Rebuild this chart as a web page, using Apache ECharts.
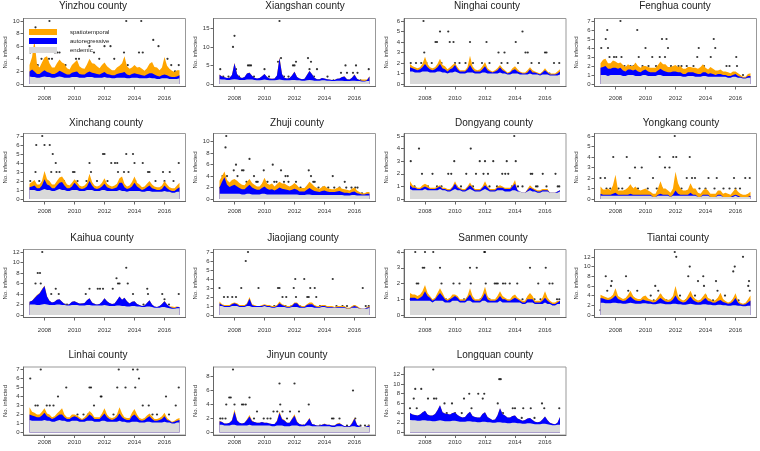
<!DOCTYPE html>
<html>
<head>
<meta charset="utf-8">
<script src="https://cdn.jsdelivr.net/npm/echarts@6/dist/echarts.min.js"></script>
<style>
html, body { margin: 0; padding: 0; background: #fff; }
#main { width: 760px; height: 451px; }
</style>
</head>
<body>
<div id="main"></div>
<script>
// fitted means every two months, 2007.0 .. 2017.0
var fitTimes = [2007,2007.17,2007.33,2007.5,2007.67,2007.83, 2008,2008.17,2008.33,2008.5,2008.67,2008.83,
    2009,2009.17,2009.33,2009.5,2009.67,2009.83, 2010,2010.17,2010.33,2010.5,2010.67,2010.83,
    2011,2011.17,2011.33,2011.5,2011.67,2011.83, 2012,2012.17,2012.33,2012.5,2012.67,2012.83,
    2013,2013.17,2013.33,2013.5,2013.67,2013.83, 2014,2014.17,2014.33,2014.5,2014.67,2014.83,
    2015,2015.17,2015.33,2015.5,2015.67,2015.83, 2016,2016.17,2016.33,2016.5,2016.67,2016.83, 2017];

var counties = ['Yinzhou county', 'Xiangshan county', 'Ninghai county', 'Fenghua county',
    'Xinchang county', 'Zhuji county', 'Dongyang county', 'Yongkang county',
    'Kaihua county', 'Jiaojiang county', 'Sanmen county', 'Tiantai county',
    'Linhai county', 'Jinyun county', 'Longquan county'];

var yMaxList = [10, 17, 6, 7, 7, 11, 5, 6, 12, 7, 4, 13, 7, 9, 13];
var yTickList = [[0,2,4,6,8,10], [0,5,10,15], [0,1,2,3,4,5,6], [0,1,2,3,4,5,6,7],
    [0,1,2,3,4,5,6,7], [0,2,4,6,8,10], [0,1,2,3,4,5], [0,1,2,3,4,5,6],
    [0,2,4,6,8,10,12], [0,1,2,3,4,5,6,7], [0,1,2,3,4], [0,2,4,6,8,10,12],
    [0,1,2,3,4,5,6,7], [0,2,4,6,8], [0,2,4,6,8,10,12]];
var yearTicks = [2008, 2010, 2012, 2014, 2016];

// endemic / autoregressive / spatiotemporal components
var yinzhouEnd = [1.2,1.1,1.1,1.0,1.0,1.1, 1.2,1.1,1.1,1.0,1.0,1.1, 1.2,1.1,1.0,1.0,1.0,1.1, 1.1,1.1,1.0,1.0,1.0,1.1, 1.1,1.1,1.0,1.0,1.0,1.0, 1.1,1.0,1.0,0.9,0.9,1.0, 1.0,1.0,1.0,0.9,0.9,1.0, 1.0,1.0,0.9,0.9,0.9,0.9, 1.0,0.9,0.9,0.8,0.8,0.9, 0.9,0.9,0.8,0.8,0.8,0.8, 0.9];
var yinzhouAR = [0.8,1.2,0.9,0.6,0.6,0.8, 1.0,0.8,0.7,0.6,0.6,0.7, 0.9,0.8,0.7,0.5,0.5,0.7, 0.8,0.9,0.6,0.5,0.5,0.7, 0.9,0.7,0.7,0.6,0.5,0.7, 0.8,0.6,0.5,0.5,0.5,0.6, 0.7,0.8,0.9,0.6,0.5,0.6, 0.7,0.6,0.6,0.5,0.4,0.6, 0.7,0.8,0.6,0.5,0.4,0.5, 0.6,0.5,0.4,0.3,0.3,0.4, 0.5];
var yinzhouST = [1.0,2.0,5.0,1.5,1.0,1.5, 2.0,2.5,1.5,1.0,1.0,1.5, 1.8,1.5,1.5,1.0,0.8,1.2, 1.5,1.8,1.2,1.0,0.9,1.3, 2.0,1.5,1.5,1.2,1.0,1.3, 1.5,1.2,1.0,0.8,0.8,1.0, 1.2,1.5,2.5,1.3,1.0,1.0, 1.3,1.0,1.2,1.0,0.8,1.0, 1.5,1.8,1.2,1.3,1.0,1.2, 2.8,1.5,1.2,1.0,0.8,1.0, 0.8];

var xiangshanEnd = [1.3,1.2,1.2,1.1,1.1,1.2, 1.3,1.2,1.1,1.1,1.1,1.2, 1.2,1.2,1.1,1.0,1.0,1.1, 1.2,1.1,1.0,1.0,1.0,1.1, 1.2,1.1,1.0,1.0,1.0,1.1, 1.1,1.0,1.0,0.9,0.9,1.0, 1.1,1.0,0.9,0.9,0.9,1.0, 1.0,0.9,0.9,0.8,0.8,0.9, 0.9,0.9,0.8,0.8,0.8,0.9, 0.9,0.8,0.8,0.7,0.7,0.8, 0.8];
var xiangshanAR = [1.2,0.8,0.6,0.5,0.6,1.2, 4.3,1.5,0.8,0.5,0.8,1.6, 1.8,1.0,0.6,0.5,0.6,1.0, 1.5,0.8,0.5,0.4,0.5,1.2, 5.8,1.5,0.7,0.5,0.6,1.2, 2.2,0.9,0.5,0.4,0.5,1.4, 2.4,1.6,0.8,0.4,0.4,0.6, 0.5,0.4,0.3,0.3,0.3,0.5, 0.6,1.0,1.2,0.5,0.4,0.8, 1.6,0.6,0.3,0.2,0.1,0.2, 1.2];
var xiangshanST = [0.1,0.0,0.0,0.0,0.0,0.0, 0.1,0.0,0.0,0.0,0.0,0.0, 0.1,0.0,0.0,0.0,0.0,0.0, 0.0,0.0,0.0,0.0,0.0,0.0, 0.2,0.1,0.0,0.0,0.0,0.0, 0.1,0.0,0.0,0.0,0.0,0.0, 0.1,0.0,0.0,0.0,0.0,0.0, 0.0,0.0,0.0,0.0,0.0,0.0, 0.0,0.0,0.1,0.0,0.0,0.0, 0.1,0.0,0.0,0.3,0.4,0.2, 0.1];

var ninghaiEnd = [1.2,1.2,1.1,1.1,1.1,1.2, 1.2,1.2,1.1,1.1,1.1,1.2, 1.2,1.1,1.1,1.0,1.1,1.1, 1.2,1.1,1.0,1.0,1.0,1.1, 1.1,1.1,1.0,1.0,1.0,1.1, 1.1,1.0,1.0,1.0,1.0,1.0, 1.1,1.0,1.0,0.9,0.9,1.0, 1.0,1.0,0.9,0.9,0.9,0.9, 1.0,0.9,0.9,0.9,0.8,0.9, 0.9,0.9,0.8,0.8,0.8,0.8, 0.9];
var ninghaiAR = [0.4,0.3,0.3,0.2,0.3,0.4, 0.7,0.4,0.3,0.2,0.3,0.4, 0.7,0.4,0.3,0.2,0.3,0.4, 0.6,0.3,0.2,0.2,0.2,0.3, 0.7,0.3,0.2,0.2,0.2,0.3, 0.6,0.3,0.2,0.1,0.2,0.3, 0.5,0.3,0.2,0.1,0.2,0.3, 0.4,0.2,0.2,0.1,0.1,0.2, 0.4,0.2,0.2,0.1,0.1,0.2, 0.4,0.2,0.1,0.1,0.1,0.2, 0.3];
var ninghaiST = [0.3,0.2,0.2,0.2,0.2,0.3, 0.7,0.3,0.2,0.2,0.2,0.3, 0.5,0.3,0.3,0.2,0.2,0.3, 0.2,0.2,0.1,0.1,0.1,0.2, 0.9,0.3,0.2,0.1,0.2,0.3, 0.4,0.2,0.1,0.1,0.1,0.2, 0.2,0.2,0.1,0.1,0.1,0.2, 0.3,0.2,0.1,0.1,0.1,0.2, 0.2,0.2,0.1,0.1,0.1,0.1, 0.2,0.1,0.1,0.1,0.1,0.2, 0.2];

var fenghuaEnd = [1.0,1.0,1.0,0.9,1.0,1.0, 1.0,1.0,1.0,0.9,0.9,1.0, 1.0,1.0,0.9,0.9,0.9,1.0, 1.0,0.9,0.9,0.9,0.9,1.0, 1.0,0.9,0.9,0.9,0.9,0.9, 0.9,0.9,0.9,0.8,0.8,0.9, 0.9,0.9,0.8,0.8,0.8,0.9, 0.9,0.8,0.8,0.8,0.8,0.8, 0.8,0.8,0.8,0.7,0.7,0.8, 0.8,0.7,0.7,0.6,0.6,0.7, 0.7];
var fenghuaAR = [0.8,0.9,1.0,0.8,0.7,0.8, 0.8,0.7,0.8,0.6,0.5,0.6, 0.6,0.5,0.7,0.5,0.4,0.5, 0.6,0.5,0.4,0.4,0.4,0.5, 0.7,0.6,0.5,0.4,0.4,0.5, 0.5,0.4,0.4,0.3,0.3,0.4, 0.4,0.4,0.4,0.3,0.3,0.4, 0.4,0.3,0.4,0.3,0.2,0.3, 0.3,0.2,0.2,0.2,0.2,0.2, 0.3,0.2,0.1,0.1,0.1,0.2, 0.2];
var fenghuaST = [0.5,0.8,0.8,0.6,0.6,0.8, 0.7,0.6,0.6,0.6,0.5,0.6, 0.4,0.5,0.8,0.6,0.5,0.5, 0.4,0.5,0.5,0.5,0.5,0.6, 0.8,0.7,0.8,0.6,0.6,0.6, 0.7,0.6,0.7,0.6,0.6,0.6, 0.6,0.5,0.6,0.6,0.8,0.9, 0.5,0.5,0.7,0.6,0.5,0.4, 0.5,0.4,0.4,0.4,0.3,0.4, 0.3,0.3,0.2,0.1,0.1,0.2, 0.3];

var xinchangEnd = [1.0,1.0,1.0,0.9,0.9,1.0, 1.1,1.0,1.0,0.9,0.9,1.0, 1.1,1.0,1.0,0.9,0.9,1.0, 1.0,1.0,0.9,0.9,0.9,1.0, 1.0,1.0,0.9,0.9,0.9,1.0, 1.0,0.9,0.9,0.9,0.9,0.9, 1.0,0.9,0.9,0.8,0.9,0.9, 0.9,0.9,0.9,0.8,0.8,0.9, 0.9,0.8,0.8,0.8,0.8,0.8, 0.9,0.8,0.8,0.7,0.7,0.8, 0.8];
var xinchangAR = [0.3,0.4,0.5,0.3,0.3,0.5, 1.1,0.6,0.5,0.3,0.3,0.5, 0.7,0.9,0.5,0.3,0.3,0.4, 0.8,0.5,0.3,0.2,0.3,0.4, 1.0,0.5,0.3,0.2,0.3,0.4, 0.7,0.4,0.3,0.2,0.3,0.4, 0.8,0.9,0.4,0.3,0.3,0.5, 0.9,0.5,0.3,0.2,0.3,0.4, 0.6,0.4,0.3,0.2,0.2,0.3, 0.6,0.4,0.2,0.2,0.2,0.3, 0.5];
var xinchangST = [0.4,0.5,0.6,0.4,0.4,0.5, 0.9,0.6,0.5,0.4,0.4,0.5, 0.6,0.6,0.6,0.4,0.3,0.4, 0.4,0.4,0.3,0.3,0.3,0.4, 0.8,0.4,0.3,0.3,0.3,0.4, 0.6,0.4,0.3,0.3,0.3,0.4, 0.5,0.7,0.4,0.3,0.3,0.5, 0.7,0.4,0.4,0.3,0.3,0.4, 0.5,0.4,0.3,0.3,0.3,0.4, 0.5,0.4,0.3,0.3,0.3,0.4, 0.5];

var zhujiEnd = [0.9,0.9,0.9,0.9,0.9,0.9, 0.9,0.9,0.9,0.8,0.8,0.9, 0.9,0.8,0.8,0.8,0.8,0.9, 0.9,0.8,0.8,0.8,0.8,0.8, 0.8,0.8,0.8,0.8,0.8,0.8, 0.8,0.8,0.7,0.7,0.7,0.8, 0.8,0.7,0.7,0.7,0.7,0.7, 0.7,0.7,0.7,0.7,0.7,0.7, 0.7,0.7,0.6,0.6,0.6,0.7, 0.7,0.6,0.6,0.6,0.6,0.6, 0.6];
var zhujiAR = [1.1,2.1,2.9,1.6,1.2,1.4, 1.6,1.3,1.0,0.9,0.9,1.2, 1.6,1.2,1.0,0.8,0.8,1.0, 1.3,1.0,0.8,0.9,0.7,0.9, 1.2,1.0,0.9,0.8,0.7,0.8, 1.0,0.8,0.6,0.6,0.6,0.8, 1.1,0.9,0.7,0.6,0.5,0.7, 0.8,0.6,0.5,0.5,0.5,0.6, 0.7,0.5,0.5,0.5,0.4,0.5, 0.6,0.4,0.3,0.2,0.2,0.3, 0.3];
var zhujiST = [1.2,1.0,1.0,0.8,0.8,1.0, 1.0,1.0,0.9,0.8,0.7,0.9, 1.0,0.8,0.7,0.6,0.6,0.8, 1.5,0.9,0.9,1.0,0.7,0.9, 1.0,0.9,1.0,0.8,0.7,0.8, 1.0,0.8,0.6,0.6,0.6,0.8, 1.1,1.0,0.8,0.6,0.6,0.7, 0.8,0.6,0.6,0.5,0.5,0.6, 0.7,0.6,0.6,0.5,0.5,0.6, 0.7,0.5,0.3,0.2,0.2,0.3, 0.3];

var dongyangEnd = [0.8,0.7,0.7,0.7,0.7,0.7, 0.8,0.7,0.7,0.7,0.7,0.7, 0.8,0.7,0.7,0.6,0.6,0.7, 0.8,0.7,0.7,0.6,0.6,0.7, 0.8,0.7,0.6,0.6,0.6,0.7, 0.8,0.7,0.6,0.6,0.6,0.7, 0.7,0.7,0.6,0.6,0.6,0.7, 0.7,0.6,0.6,0.5,0.5,0.6, 0.7,0.6,0.6,0.5,0.5,0.6, 0.6,0.6,0.5,0.5,0.5,0.5, 0.6];
var dongyangAR = [0.3,0.2,0.2,0.1,0.1,0.2, 0.2,0.2,0.1,0.1,0.1,0.2, 0.2,0.1,0.1,0.1,0.1,0.2, 0.4,0.2,0.1,0.1,0.1,0.2, 0.3,0.2,0.1,0.1,0.1,0.2, 0.3,0.2,0.1,0.1,0.1,0.2, 0.2,0.2,0.2,0.2,0.2,0.3, 0.5,0.1,0.0,0.0,0.0,0.1, 0.2,0.2,0.1,0.1,0.1,0.1, 0.1,0.1,0.0,0.0,0.0,0.1, 0.1];
var dongyangST = [0.3,0.2,0.1,0.1,0.1,0.2, 0.2,0.2,0.1,0.1,0.1,0.1, 0.1,0.1,0.1,0.1,0.1,0.1, 0.2,0.1,0.1,0.1,0.1,0.1, 0.2,0.1,0.1,0.1,0.1,0.1, 0.3,0.1,0.1,0.1,0.1,0.1, 0.2,0.1,0.1,0.1,0.1,0.1, 0.3,0.0,0.0,0.0,0.0,0.1, 0.2,0.1,0.1,0.1,0.1,0.1, 0.1,0.1,0.0,0.0,0.0,0.0, 0.0];

var yongkangEnd = [0.3,0.3,0.3,0.3,0.3,0.3, 0.3,0.3,0.3,0.3,0.3,0.3, 0.3,0.3,0.3,0.3,0.3,0.3, 0.3,0.3,0.3,0.2,0.2,0.3, 0.3,0.3,0.3,0.3,0.2,0.3, 0.3,0.3,0.3,0.3,0.3,0.3, 0.3,0.3,0.3,0.2,0.2,0.3, 0.3,0.3,0.2,0.2,0.2,0.3, 0.3,0.2,0.2,0.2,0.2,0.2, 0.3,0.2,0.2,0.2,0.2,0.2, 0.2];
var yongkangAR = [0.2,0.1,0.1,0.1,0.1,0.2, 0.3,0.1,0.1,0.1,0.1,0.1, 0.2,0.1,0.1,0.1,0.1,0.1, 0.1,0.1,0.1,0.0,0.0,0.1, 0.2,0.1,0.1,0.1,0.0,0.1, 0.5,0.2,0.1,0.1,0.1,0.1, 0.3,0.1,0.1,0.0,0.0,0.1, 0.1,0.1,0.0,0.0,0.0,0.1, 0.1,0.0,0.0,0.0,0.0,0.1, 0.1,0.1,0.0,0.0,0.0,0.0, 0.1];
var yongkangST = [0.7,0.5,0.5,0.6,0.4,0.8, 1.7,0.4,0.4,0.4,0.5,0.7, 0.9,0.6,0.8,0.5,0.4,0.5, 0.6,0.4,0.3,0.3,0.3,0.6, 1.2,0.6,0.6,0.4,0.4,0.6, 1.8,1.0,0.6,0.4,0.4,0.5, 0.9,0.6,0.6,0.4,0.3,0.4, 0.6,0.4,0.3,0.3,0.3,0.4, 0.4,0.3,0.4,0.3,0.2,0.4, 0.6,0.4,0.3,0.2,0.2,0.3, 0.4];

var kaihuaEnd = [2.0,2.0,2.0,1.9,1.9,2.0, 2.1,2.0,1.9,1.9,1.9,2.0, 2.0,1.9,1.9,1.8,1.8,1.9, 1.9,1.9,1.8,1.8,1.8,1.9, 1.9,1.8,1.8,1.8,1.8,1.8, 1.9,1.8,1.7,1.7,1.7,1.8, 1.8,1.7,1.7,1.6,1.6,1.7, 1.7,1.6,1.6,1.5,1.5,1.6, 1.6,1.5,1.4,1.4,1.4,1.5, 1.5,1.4,1.3,1.2,1.2,1.3, 1.3];
var kaihuaAR = [0.5,0.7,1.2,1.8,2.2,2.8, 3.4,1.5,0.8,0.5,0.6,0.9, 1.0,0.6,0.2,0.1,0.3,0.6, 0.7,0.5,0.4,0.4,0.5,0.9, 1.3,0.6,0.3,0.2,0.3,0.7, 1.3,0.8,0.6,0.4,0.5,1.0, 1.7,1.2,1.6,1.0,0.6,0.8, 0.9,0.5,0.3,0.2,0.3,0.7, 1.2,0.5,0.2,0.1,0.3,0.6, 1.1,0.6,0.3,0.2,0.1,0.2, 0.2];
var kaihuaST = [0.0,0.0,0.1,0.1,0.1,0.1, 0.1,0.0,0.0,0.0,0.0,0.0, 0.0,0.0,0.0,0.0,0.0,0.0, 0.0,0.0,0.0,0.0,0.0,0.0, 0.0,0.0,0.0,0.0,0.0,0.0, 0.0,0.0,0.0,0.0,0.0,0.0, 0.0,0.0,0.0,0.0,0.0,0.0, 0.0,0.0,0.0,0.0,0.0,0.0, 0.0,0.0,0.0,0.0,0.0,0.0, 0.1,0.0,0.0,0.2,0.2,0.1, 0.0];

var jiaojiangEnd = [1.0,1.0,0.9,0.9,0.9,1.0, 1.0,1.0,0.9,0.9,0.9,1.0, 1.0,0.9,0.9,0.9,0.9,0.9, 1.0,0.9,0.9,0.8,0.8,0.9, 0.9,0.9,0.9,0.8,0.8,0.9, 0.9,0.9,0.8,0.8,0.8,0.9, 0.9,0.9,0.8,0.8,0.8,0.9, 0.9,0.8,0.8,0.8,0.8,0.8, 0.8,0.8,0.8,0.7,0.7,0.8, 0.8,0.8,0.7,0.7,0.7,0.7, 0.8];
var jiaojiangAR = [0.3,0.1,0.1,0.1,0.1,0.2, 0.3,0.2,0.1,0.1,0.1,0.2, 0.8,0.2,0.1,0.1,0.1,0.1, 0.1,0.1,0.1,0.1,0.1,0.1, 0.4,0.2,0.1,0.1,0.1,0.1, 0.4,0.4,0.2,0.1,0.1,0.2, 0.3,0.3,0.2,0.1,0.1,0.1, 0.1,0.1,0.1,0.1,0.0,0.1, 0.1,0.1,0.1,0.0,0.0,0.1, 0.2,0.1,0.0,0.0,0.0,0.1, 0.1];
var jiaojiangST = [0.2,0.1,0.1,0.1,0.1,0.1, 0.1,0.1,0.1,0.1,0.1,0.1, 0.2,0.1,0.1,0.0,0.0,0.1, 0.1,0.1,0.1,0.1,0.1,0.1, 0.2,0.1,0.1,0.1,0.1,0.1, 0.1,0.1,0.1,0.1,0.1,0.1, 0.2,0.2,0.1,0.1,0.1,0.1, 0.1,0.1,0.1,0.1,0.1,0.1, 0.1,0.1,0.1,0.1,0.1,0.1, 0.1,0.1,0.1,0.0,0.0,0.1, 0.1];

var sanmenEnd = [0.9,0.9,0.9,0.9,0.9,0.9, 0.9,0.9,0.9,0.8,0.9,0.9, 0.9,0.9,0.8,0.8,0.8,0.9, 0.9,0.9,0.8,0.8,0.8,0.9, 0.9,0.8,0.8,0.8,0.8,0.9, 0.9,0.8,0.8,0.8,0.8,0.8, 0.9,0.8,0.8,0.8,0.8,0.8, 0.8,0.8,0.8,0.7,0.7,0.8, 0.8,0.8,0.7,0.7,0.7,0.7, 0.8,0.7,0.7,0.6,0.6,0.7, 0.7];
var sanmenAR = [0.2,0.2,0.2,0.1,0.2,0.3, 0.6,0.3,0.2,0.1,0.1,0.3, 0.5,0.3,0.2,0.1,0.2,0.2, 0.3,0.2,0.1,0.1,0.1,0.2, 0.4,0.2,0.1,0.1,0.1,0.2, 0.5,0.2,0.1,0.1,0.1,0.2, 0.3,0.2,0.2,0.1,0.1,0.2, 0.3,0.2,0.1,0.1,0.1,0.2, 0.2,0.2,0.1,0.1,0.1,0.2, 0.3,0.2,0.1,0.1,0.1,0.1, 0.2];
var sanmenST = [0.3,0.2,0.2,0.2,0.2,0.3, 0.4,0.2,0.1,0.1,0.1,0.2, 0.3,0.2,0.1,0.1,0.1,0.2, 0.1,0.1,0.1,0.1,0.1,0.1, 0.4,0.2,0.1,0.1,0.1,0.2, 0.4,0.2,0.1,0.1,0.1,0.2, 0.3,0.2,0.1,0.1,0.1,0.2, 0.2,0.1,0.1,0.1,0.1,0.2, 0.4,0.2,0.1,0.1,0.1,0.2, 0.4,0.2,0.1,0.1,0.1,0.1, 0.0];

var tiantaiEnd = [2.5,2.5,2.4,2.4,2.4,2.5, 2.5,2.4,2.4,2.3,2.3,2.4, 2.5,2.4,2.3,2.3,2.3,2.4, 2.4,2.3,2.3,2.2,2.2,2.3, 2.4,2.3,2.2,2.2,2.2,2.3, 2.3,2.2,2.2,2.1,2.1,2.2, 2.3,2.2,2.1,2.1,2.1,2.2, 2.2,2.1,2.1,2.0,2.0,2.1, 2.1,2.0,2.0,1.9,1.9,2.0, 2.0,1.9,1.9,1.8,1.8,1.9, 1.9];
var tiantaiAR = [1.0,0.9,0.8,0.7,0.8,1.0, 1.5,0.9,0.7,0.6,0.7,1.0, 1.3,0.9,0.7,0.6,0.6,0.8, 0.6,0.6,0.5,0.4,0.5,0.8, 1.1,0.8,0.6,0.5,0.6,0.9, 1.7,0.9,0.6,0.5,0.6,1.0, 1.5,0.9,0.7,0.5,0.6,0.9, 1.3,0.8,0.7,0.5,0.6,0.8, 1.0,0.7,0.5,0.4,0.5,0.8, 1.5,0.6,0.3,0.3,0.4,0.7, 1.1];
var tiantaiST = [0.7,0.5,0.5,0.4,0.5,0.7, 1.5,0.6,0.5,0.4,0.5,0.7, 1.2,0.6,0.5,0.4,0.4,0.6, 1.0,0.5,0.4,0.4,0.4,0.6, 1.0,0.6,0.5,0.4,0.5,0.7, 2.0,0.8,0.5,0.4,0.5,0.8, 1.2,0.7,0.5,0.4,0.5,0.7, 1.0,0.6,0.5,0.4,0.5,0.7, 1.5,0.6,0.4,0.3,0.4,0.6, 1.0,0.5,0.3,0.2,0.3,0.6, 1.0];

var linhaiEnd = [1.4,1.3,1.3,1.3,1.3,1.3, 1.4,1.3,1.3,1.2,1.2,1.3, 1.4,1.3,1.3,1.2,1.2,1.3, 1.3,1.3,1.2,1.2,1.2,1.3, 1.3,1.3,1.2,1.2,1.2,1.3, 1.3,1.2,1.2,1.2,1.2,1.2, 1.3,1.2,1.2,1.1,1.1,1.2, 1.2,1.2,1.1,1.1,1.1,1.2, 1.2,1.1,1.1,1.1,1.1,1.1, 1.2,1.1,1.1,1.0,1.0,1.1, 1.1];
var linhaiAR = [0.6,0.6,0.5,0.4,0.4,0.6, 0.8,0.5,0.4,0.3,0.4,0.5, 0.6,0.7,0.4,0.3,0.3,0.4, 0.5,0.4,0.3,0.2,0.3,0.4, 0.7,0.5,0.3,0.3,0.3,0.5, 0.8,0.5,0.3,0.2,0.3,0.5, 0.8,0.5,0.3,0.3,0.3,0.6, 0.8,0.5,0.3,0.2,0.3,0.4, 0.6,0.4,0.2,0.2,0.3,0.4, 0.6,0.3,0.2,0.1,0.2,0.2, 0.3];
var linhaiST = [0.8,0.4,0.4,0.3,0.3,0.4, 0.5,0.3,0.3,0.2,0.2,0.3, 0.4,0.7,0.3,0.2,0.2,0.3, 0.2,0.2,0.2,0.1,0.2,0.3, 0.4,0.3,0.2,0.2,0.2,0.3, 0.6,0.3,0.2,0.2,0.2,0.3, 0.7,0.4,0.2,0.2,0.2,0.4, 0.6,0.3,0.2,0.2,0.2,0.3, 0.3,0.3,0.2,0.2,0.2,0.3, 0.4,0.2,0.1,0.1,0.1,0.2, 0.2];

var jinyunEnd = [1.1,1.1,1.0,1.0,1.0,1.1, 1.1,1.0,1.0,1.0,1.0,1.0, 1.1,1.0,1.0,1.0,1.0,1.0, 1.0,1.0,1.0,0.9,0.9,1.0, 1.0,1.0,0.9,0.9,0.9,1.0, 1.0,1.0,0.9,0.9,0.9,1.0, 1.0,0.9,0.9,0.9,0.9,0.9, 0.9,0.9,0.9,0.8,0.8,0.9, 0.9,0.9,0.8,0.8,0.8,0.9, 0.9,0.8,0.8,0.8,0.8,0.8, 0.8];
var jinyunAR = [0.5,0.4,0.3,0.3,0.4,0.6, 1.9,0.7,0.4,0.3,0.4,0.8, 1.2,0.6,0.5,0.4,0.4,0.5, 0.4,0.4,0.3,0.3,0.3,0.6, 1.8,0.9,0.8,0.5,0.5,0.9, 1.4,0.5,0.3,0.2,0.2,0.5, 1.0,0.3,0.2,0.1,0.1,0.2, 0.3,0.2,0.2,0.2,0.2,0.3, 0.4,0.2,0.1,0.1,0.1,0.4, 1.1,0.3,0.1,0.0,0.0,0.1, 0.2];
var jinyunST = [0.1,0.0,0.0,0.0,0.0,0.1, 0.3,0.1,0.0,0.0,0.0,0.1, 0.2,0.1,0.0,0.0,0.0,0.0, 0.0,0.0,0.0,0.0,0.0,0.1, 0.2,0.1,0.1,0.0,0.0,0.1, 0.2,0.1,0.0,0.0,0.0,0.0, 0.1,0.0,0.0,0.0,0.0,0.0, 0.1,0.0,0.0,0.0,0.0,0.1, 0.1,0.0,0.0,0.0,0.0,0.1, 0.1,0.0,0.0,0.0,0.0,0.0, 0.1];

var longquanEnd = [2.6,2.5,2.5,2.4,2.4,2.5, 2.5,2.4,2.4,2.3,2.3,2.4, 2.5,2.4,2.3,2.3,2.3,2.4, 2.4,2.3,2.2,2.2,2.2,2.3, 2.3,2.2,2.2,2.1,2.1,2.2, 2.2,2.1,2.1,2.0,2.0,2.1, 2.1,2.0,2.0,1.9,1.9,2.0, 2.0,1.9,1.9,1.8,1.8,1.9, 1.9,1.8,1.7,1.7,1.7,1.8, 1.8,1.7,1.6,1.5,1.5,1.6, 1.6];
var longquanAR = [1.4,1.2,1.1,1.1,1.3,1.6, 2.0,1.3,1.1,1.2,1.5,2.2, 3.1,1.8,1.6,1.5,1.4,1.6, 1.7,1.3,1.1,0.9,1.0,1.5, 2.0,1.2,1.0,1.0,1.0,1.6, 2.0,1.1,0.8,0.6,0.7,1.4, 2.9,1.8,1.5,1.2,1.2,1.4, 1.5,1.0,0.8,0.6,0.8,1.0, 1.1,0.8,0.5,0.4,0.5,0.9, 1.5,0.8,0.4,0.3,0.2,0.4, 1.6];
var longquanST = [0,0,0,0,0,0, 0,0,0,0,0,0, 0,0,0,0,0,0, 0,0,0,0,0,0, 0,0,0,0,0,0, 0,0,0,0,0,0, 0,0,0,0,0,0, 0,0,0,0,0,0, 0,0,0,0,0,0, 0,0,0,0,0,0, 0];

// observed counts [time, cases]
var yinzhouObs = [[2007.05,5],[2007.15,3],[2007.3,1],[2007.4,9],[2007.55,3],[2007.6,1],[2007.75,1],[2007.8,4],[2008.0,3],[2008.1,2],[2008.3,4],[2008.33,10],[2008.5,4],[2008.6,1],[2008.7,5],[2008.85,5],[2009.0,5],[2009.2,2],[2009.4,3],[2009.5,1],[2010.0,2],[2010.1,4],[2010.3,4],[2010.5,1],[2011.0,6],[2011.2,2],[2011.3,5],[2011.6,1],[2011.65,4],[2012.0,6],[2012.2,2],[2012.4,6],[2012.65,4],[2012.8,2],[2013.0,1],[2013.3,5],[2013.45,10],[2013.55,3],[2013.8,2],[2014.0,2],[2014.3,5],[2014.45,10],[2014.55,5],[2014.7,1],[2015.0,2],[2015.25,7],[2015.3,1],[2015.6,6],[2015.8,2],[2016.2,4],[2016.3,1],[2016.45,3],[2016.7,2],[2016.95,3]];
var xiangshanObs = [[2007.05,4],[2007.25,2],[2007.4,1],[2007.6,2],[2007.9,10],[2008.0,13],[2008.1,4],[2008.3,2],[2008.5,1],[2008.9,5],[2009.0,5],[2009.1,5],[2009.3,2],[2009.6,1],[2010.0,4],[2010.3,2],[2010.6,1],[2010.9,6],[2011.0,17],[2011.1,7],[2011.3,2],[2011.6,2],[2011.9,5],[2012.0,5],[2012.1,6],[2012.5,1],[2012.9,7],[2013.0,4],[2013.1,6],[2013.3,2],[2013.5,4],[2013.8,1],[2014.2,2],[2014.6,1],[2015.1,3],[2015.4,5],[2015.5,3],[2015.9,3],[2016.1,5],[2016.2,3],[2016.4,1],[2016.95,4]];
var ninghaiObs = [[2007.05,2],[2007.2,1],[2007.4,2],[2007.6,1],[2007.75,2],[2007.9,6],[2007.95,3],[2008.1,2],[2008.3,1],[2008.45,2],[2008.7,4],[2008.8,4],[2009.0,5],[2009.1,2],[2009.3,1],[2009.55,5],[2009.65,4],[2009.9,4],[2010.0,2],[2010.3,2],[2010.5,1],[2010.7,2],[2011.0,4],[2011.2,2],[2011.4,1],[2011.8,2],[2012.1,4],[2012.3,2],[2012.6,1],[2012.9,3],[2013.1,2],[2013.3,3],[2013.5,2],[2013.7,1],[2014.05,4],[2014.2,2],[2014.5,5],[2014.7,3],[2014.85,3],[2015.1,2],[2015.3,1],[2015.6,2],[2016.0,3],[2016.1,3],[2016.3,1],[2016.6,2],[2016.95,2]];
var fenghuaObs = [[2007.05,4],[2007.2,2],[2007.35,5],[2007.45,6],[2007.5,4],[2007.6,3],[2007.8,2],[2007.9,3],[2008.05,3],[2008.33,7],[2008.4,3],[2008.6,2],[2009.0,2],[2009.2,2],[2009.45,6],[2009.55,3],[2009.8,2],[2010.0,4],[2010.2,2],[2010.45,3],[2010.7,2],[2010.95,3],[2011.1,5],[2011.3,3],[2011.4,5],[2011.5,4],[2011.7,2],[2012.2,2],[2012.4,2],[2012.75,2],[2013.2,2],[2013.45,3],[2013.55,4],[2013.9,2],[2014.35,3],[2014.55,5],[2014.65,4],[2015.0,1],[2015.4,2],[2015.6,2],[2016.05,3],[2016.1,2],[2016.5,1],[2016.9,1]];
var xinchangObs = [[2007.05,2],[2007.4,3],[2007.45,6],[2007.65,2],[2007.85,7],[2008.0,6],[2008.35,6],[2008.45,3],[2008.55,5],[2008.75,4],[2008.8,3],[2009.0,3],[2009.3,2],[2009.9,3],[2010.0,3],[2010.2,2],[2010.8,2],[2011.0,4],[2011.1,3],[2011.5,2],[2011.9,5],[2012.0,5],[2012.2,2],[2012.45,4],[2012.7,4],[2012.85,4],[2012.9,3],[2013.3,3],[2013.45,5],[2013.6,3],[2013.9,5],[2014.0,4],[2014.05,2],[2014.55,4],[2014.9,3],[2015.0,3],[2015.4,2],[2015.9,3],[2016.0,2],[2016.35,3],[2016.6,2],[2016.95,4]];
var zhujiObs = [[2007.05,2],[2007.2,4],[2007.3,4],[2007.4,9],[2007.45,11],[2007.5,4],[2007.75,2],[2007.95,5],[2008.1,6],[2008.2,4],[2008.35,2],[2008.5,5],[2008.6,5],[2008.8,3],[2009.0,7],[2009.3,4],[2009.45,3],[2009.55,3],[2009.95,5],[2010.05,3],[2010.2,3],[2010.55,6],[2010.65,3],[2010.8,3],[2011.1,5],[2011.3,3],[2011.4,4],[2011.55,4],[2011.6,3],[2011.8,2],[2012.1,3],[2012.4,2],[2012.95,5],[2013.1,4],[2013.25,3],[2013.35,3],[2013.6,2],[2013.9,2],[2014.25,2],[2014.55,4],[2014.65,2],[2015.0,2],[2015.35,3],[2015.45,2],[2015.8,2],[2016.05,2],[2016.2,2],[2016.5,1]];
var dongyangObs = [[2007.05,3],[2007.3,1],[2007.6,4],[2007.8,2],[2008.2,1],[2008.5,2],[2008.8,1],[2009.1,1],[2009.55,2],[2009.75,2],[2009.95,3],[2010.1,1],[2010.4,1],[2010.75,2],[2011.05,4],[2011.2,1],[2011.4,2],[2011.65,3],[2011.9,2],[2012.0,3],[2012.2,2],[2012.3,1],[2012.55,3],[2012.8,1],[2013.15,2],[2013.35,2],[2013.45,3],[2013.55,2],[2013.8,1],[2013.95,5],[2014.05,3],[2014.2,1],[2014.5,1],[2015.05,2],[2015.15,2],[2015.4,1],[2015.5,1],[2015.85,2],[2016.1,1],[2016.7,2],[2016.85,1],[2016.95,1]];
var yongkangObs = [[2007.0,2],[2007.3,2],[2007.4,1],[2007.65,1],[2007.85,4],[2008.0,1],[2008.2,1],[2008.45,1],[2008.75,4],[2008.95,2],[2009.1,1],[2009.3,3],[2009.5,1],[2009.75,3],[2010.15,1],[2010.5,2],[2010.75,1],[2010.95,4],[2011.1,1],[2011.3,3],[2011.6,3],[2011.85,4],[2011.95,6],[2012.05,4],[2012.2,1],[2012.4,1],[2012.75,2],[2012.95,4],[2013.1,2],[2013.3,2],[2013.6,1],[2014.0,1],[2014.2,2],[2014.6,1],[2014.75,2],[2015.2,1],[2015.6,1],[2015.9,2],[2016.0,1],[2016.3,1],[2016.65,2],[2016.95,2]];
var kaihuaObs = [[2007.05,2],[2007.2,1],[2007.4,6],[2007.55,8],[2007.7,8],[2007.75,6],[2007.85,12],[2007.95,5],[2008.2,1],[2008.45,4],[2008.6,1],[2008.75,5],[2008.95,4],[2009.2,1],[2009.35,2],[2009.5,2],[2009.7,1],[2009.8,2],[2010.0,2],[2010.15,1],[2010.35,1],[2010.5,2],[2010.75,4],[2010.9,1],[2011.0,5],[2011.3,2],[2011.55,5],[2011.7,5],[2011.9,5],[2012.1,2],[2012.3,1],[2012.55,5],[2012.8,7],[2012.9,6],[2013.0,6],[2013.2,1],[2013.45,9],[2013.55,6],[2013.7,2],[2013.9,4],[2014.0,1],[2014.3,1],[2014.6,2],[2014.85,5],[2014.9,4],[2015.2,1],[2015.5,1],[2015.85,4],[2016.0,3],[2016.3,2],[2016.6,1],[2016.95,4]];
var jiaojiangObs = [[2007.0,3],[2007.3,2],[2007.55,2],[2007.85,2],[2008.1,2],[2008.45,3],[2008.75,6],[2008.9,7],[2009.2,1],[2009.6,3],[2009.9,1],[2010.3,1],[2010.65,1],[2010.9,3],[2011.0,3],[2011.2,2],[2011.4,1],[2011.45,2],[2011.8,1],[2011.95,3],[2012.05,4],[2012.1,2],[2012.35,1],[2012.65,4],[2012.85,2],[2012.95,2],[2013.05,3],[2013.35,3],[2013.45,2],[2013.7,1],[2014.0,1],[2014.55,4],[2014.8,1],[2015.2,1],[2015.5,1],[2016.0,1],[2016.55,3],[2016.75,1],[2016.95,1]];
var sanmenObs = [[2007.05,1],[2007.35,4],[2007.45,2],[2007.55,2],[2007.85,3],[2007.95,3],[2008.0,4],[2008.2,1],[2008.55,4],[2008.8,1],[2009.0,3],[2009.1,2],[2009.4,1],[2009.65,1],[2009.9,2],[2010.3,2],[2010.6,1],[2011.0,3],[2011.05,2],[2011.45,3],[2011.7,1],[2011.95,4],[2012.0,4],[2012.05,2],[2012.3,1],[2012.65,2],[2012.75,2],[2012.85,2],[2013.0,1],[2013.2,2],[2013.35,2],[2013.65,2],[2013.9,1],[2014.15,2],[2014.5,1],[2014.8,1],[2015.0,3],[2015.3,1],[2015.55,2],[2015.7,1],[2016.05,3],[2016.3,2],[2016.5,2],[2016.8,1],[2016.95,1]];
var tiantaiObs = [[2007.0,1],[2007.2,3],[2007.35,8],[2007.45,5],[2007.6,3],[2007.7,6],[2007.75,7],[2007.9,2],[2008.0,4],[2008.3,1],[2008.7,8],[2008.85,5],[2009.05,4],[2009.2,2],[2009.45,5],[2009.6,3],[2009.8,1],[2009.95,1],[2010.15,2],[2010.35,4],[2010.55,3],[2010.65,6],[2010.85,5],[2011.0,4],[2011.2,2],[2011.4,3],[2011.55,1],[2011.85,2],[2011.95,13],[2012.05,12],[2012.3,4],[2012.5,1],[2012.7,3],[2012.85,8],[2012.95,10],[2013.1,3],[2013.3,4],[2013.5,7],[2013.7,2],[2013.85,8],[2013.9,6],[2014.0,4],[2014.2,2],[2014.5,3],[2014.7,7],[2014.8,5],[2015.0,2],[2015.3,4],[2015.55,2],[2015.7,1],[2015.85,9],[2015.95,10],[2016.2,3],[2016.5,12],[2016.65,2],[2016.85,6],[2016.9,7],[2016.95,5]];
var linhaiObs = [[2007.05,6],[2007.15,2],[2007.2,1],[2007.4,3],[2007.55,3],[2007.75,7],[2007.8,1],[2008.0,2],[2008.15,3],[2008.35,3],[2008.6,3],[2008.9,4],[2009.1,2],[2009.3,1],[2009.45,5],[2009.7,1],[2010.0,1],[2010.2,2],[2010.3,1],[2010.6,2],[2010.9,2],[2011.0,5],[2011.1,5],[2011.3,3],[2011.5,1],[2011.75,4],[2011.8,4],[2012.05,2],[2012.3,1],[2012.6,2],[2012.85,5],[2012.95,7],[2013.1,2],[2013.4,5],[2013.6,1],[2013.9,7],[2014.05,5],[2014.2,7],[2014.3,6],[2014.55,3],[2014.7,1],[2014.95,3],[2015.2,2],[2015.5,2],[2015.8,1],[2016.1,4],[2016.3,2],[2016.55,1],[2016.75,3],[2016.95,5]];
var jinyunObs = [[2007.05,2],[2007.2,2],[2007.4,2],[2007.45,4],[2007.65,5],[2007.75,5],[2007.9,9],[2008.0,4],[2008.2,1],[2008.5,4],[2008.6,4],[2008.75,4],[2009.0,5],[2009.3,2],[2009.5,3],[2009.7,1],[2009.95,2],[2010.2,2],[2010.4,2],[2010.6,3],[2010.85,3],[2011.0,7],[2011.05,4],[2011.2,3],[2011.5,2],[2011.7,3],[2012.0,7],[2012.3,3],[2012.6,1],[2012.95,4],[2013.3,1],[2013.7,1],[2014.0,1],[2014.5,2],[2014.6,2],[2015.0,2],[2015.5,1],[2015.9,6],[2016.05,2],[2016.4,1],[2016.7,1],[2016.95,1]];
var longquanObs = [[2007.0,5],[2007.15,3],[2007.25,7],[2007.35,9],[2007.45,5],[2007.6,2],[2007.75,9],[2007.9,4],[2008.05,2],[2008.2,7],[2008.3,3],[2008.55,13],[2008.6,7],[2008.75,7],[2008.9,2],[2009.1,1],[2009.3,6],[2009.45,4],[2009.55,1],[2009.8,6],[2010.0,4],[2010.2,2],[2010.45,4],[2010.6,7],[2010.75,2],[2010.95,8],[2011.1,5],[2011.3,2],[2011.55,8],[2011.85,7],[2011.95,8],[2012.1,2],[2012.3,1],[2012.5,1],[2012.7,1],[2012.85,6],[2012.95,11],[2013.05,11],[2013.2,4],[2013.35,3],[2013.6,2],[2013.85,5],[2014.0,5],[2014.2,2],[2014.45,3],[2014.55,5],[2014.8,1],[2015.05,5],[2015.3,3],[2015.5,1],[2015.8,6],[2015.95,5],[2016.2,1],[2016.5,1],[2016.75,1],[2016.95,5]];

var endemicList = [yinzhouEnd, xiangshanEnd, ninghaiEnd, fenghuaEnd, xinchangEnd, zhujiEnd, dongyangEnd, yongkangEnd,
    kaihuaEnd, jiaojiangEnd, sanmenEnd, tiantaiEnd, linhaiEnd, jinyunEnd, longquanEnd];
var arList = [yinzhouAR, xiangshanAR, ninghaiAR, fenghuaAR, xinchangAR, zhujiAR, dongyangAR, yongkangAR,
    kaihuaAR, jiaojiangAR, sanmenAR, tiantaiAR, linhaiAR, jinyunAR, longquanAR];
var stList = [yinzhouST, xiangshanST, ninghaiST, fenghuaST, xinchangST, zhujiST, dongyangST, yongkangST,
    kaihuaST, jiaojiangST, sanmenST, tiantaiST, linhaiST, jinyunST, longquanST];
var obsList = [yinzhouObs, xiangshanObs, ninghaiObs, fenghuaObs, xinchangObs, zhujiObs, dongyangObs, yongkangObs,
    kaihuaObs, jiaojiangObs, sanmenObs, tiantaiObs, linhaiObs, jinyunObs, longquanObs];

var titleX = [93, 305, 487, 675, 106, 297, 494, 681, 102, 303, 493, 678, 98, 297, 495];

var FONT = 'Liberation Sans, Arial, sans-serif';
var COLOR_ST = '#FFA500';
var COLOR_AR = '#0000FF';
var COLOR_END = '#D9D9D9';

// box placement per column / row
var colLeft = [23.5, 213.5, 404, 594.5];
var rowTop = [18.5, 133.5, 249.5, 367];
var rowLabelMargin = [9, 7, 10, 4];
var titleY = [6, 123, 238, 355];
var BOX_W = 162;
var BOX_H = 68;

function pairs(tops) {
    var out = [];
    for (var k = 0; k < fitTimes.length; k++) {
        out.push([fitTimes[k], Math.round(tops[k] * 100) / 100]);
    }
    return out;
}

function plainNumber(v) {
    return String(v);
}

function buildOption() {
    var option = {
        animation: false,
        textStyle: { fontFamily: FONT },
        legend: {
            orient: 'vertical',
            left: 24,
            top: 24,
            itemWidth: 28,
            itemHeight: 6,
            itemGap: 3,
            selectedMode: false,
            textStyle: { fontSize: 6, color: '#222', fontFamily: FONT, padding: [0, 0, 0, 8] },
            data: [
                { name: 'spatiotemporal', icon: 'rect' },
                { name: 'autoregressive', icon: 'rect' },
                { name: 'endemic', icon: 'rect' }
            ]
        },
        graphic: [],
        grid: [],
        xAxis: [],
        yAxis: [],
        series: []
    };

    for (var i = 0; i < counties.length; i++) {
        var end = endemicList[i], ar = arList[i], st = stList[i];
        if (end.length !== 61 || ar.length !== 61 || st.length !== 61) {
            throw new Error('bad length for ' + counties[i] + ': ' + end.length + ' ' + ar.length + ' ' + st.length);
        }
        var row = Math.floor(i / 4), col = i % 4;
        var ymax = yMaxList[i];

        var arTop = [], stTop = [];
        for (var k = 0; k < end.length; k++) {
            arTop.push(end[k] + ar[k]);
            stTop.push(end[k] + ar[k] + st[k]);
        }

        option.grid.push({
            left: colLeft[col],
            top: rowTop[row],
            width: BOX_W,
            height: BOX_H,
            show: true,
            borderColor: '#999',
            borderWidth: 1,
            backgroundColor: 'transparent'
        });

        option.xAxis.push({
            gridIndex: i,
            type: 'value',
            min: 2006.6,
            max: 2017.4,
            axisLine: { show: true, onZero: false, lineStyle: { color: '#666', width: 1 } },
            axisTick: { show: true, length: 3, customValues: yearTicks, lineStyle: { color: '#666' } },
            axisLabel: { customValues: yearTicks, fontSize: 6, color: '#333', margin: rowLabelMargin[row], formatter: plainNumber },
            splitLine: { show: false }
        });

        option.yAxis.push({
            gridIndex: i,
            type: 'value',
            min: -0.04 * ymax,
            max: 1.04 * ymax,
            axisLine: { show: true, onZero: false, lineStyle: { color: '#666', width: 1 } },
            axisTick: { show: true, length: 3, customValues: yTickList[i], lineStyle: { color: '#666' } },
            axisLabel: { customValues: yTickList[i], fontSize: 6, color: '#333', margin: 4, formatter: plainNumber },
            splitLine: { show: false },
            name: 'No. infected',
            nameLocation: 'middle',
            nameGap: 15,
            nameTextStyle: { fontSize: 6, color: '#333' }
        });

        option.series.push({
            name: 'spatiotemporal',
            type: 'line',
            xAxisIndex: i,
            yAxisIndex: i,
            data: pairs(stTop),
            symbol: 'none',
            silent: true,
            lineStyle: { width: 0 },
            itemStyle: { color: COLOR_ST },
            areaStyle: { color: COLOR_ST, opacity: 1 }
        });
        option.series.push({
            name: 'autoregressive',
            type: 'line',
            xAxisIndex: i,
            yAxisIndex: i,
            data: pairs(arTop),
            symbol: 'none',
            silent: true,
            lineStyle: { width: 0 },
            itemStyle: { color: COLOR_AR },
            areaStyle: { color: COLOR_AR, opacity: 1 }
        });
        option.series.push({
            name: 'endemic',
            type: 'line',
            xAxisIndex: i,
            yAxisIndex: i,
            data: pairs(end),
            symbol: 'none',
            silent: true,
            lineStyle: { width: 0 },
            itemStyle: { color: COLOR_END },
            areaStyle: { color: COLOR_END, opacity: 1 }
        });
        option.series.push({
            name: 'observed',
            type: 'scatter',
            xAxisIndex: i,
            yAxisIndex: i,
            data: obsList[i],
            symbol: 'circle',
            symbolSize: 2.2,
            silent: true,
            itemStyle: { color: '#000' }
        });

        option.graphic.push({
            type: 'text',
            x: titleX[i],
            y: titleY[row],
            silent: true,
            style: {
                text: counties[i],
                font: '10px ' + FONT,
                fill: '#222',
                textAlign: 'center',
                textVerticalAlign: 'middle'
            }
        });
    }
    return option;
}

var myChart = echarts.init(document.getElementById('main'));
myChart.setOption(buildOption());
</script>
</body>
</html>
